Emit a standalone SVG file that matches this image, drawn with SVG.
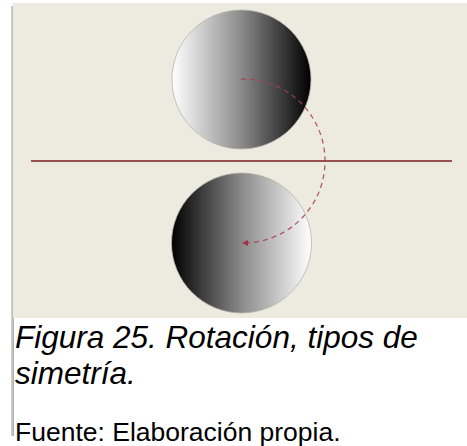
<svg xmlns="http://www.w3.org/2000/svg" width="467" height="446" viewBox="0 0 467 446">
  <style>
    .cap { font-family: "Liberation Sans", Arial, sans-serif; fill: #000; }
    .it { font-style: italic; font-size: 31.5px; }
    .src { font-size: 26.5px; }
    .ball { stroke: #b8b4aa; stroke-width: 0.8; }
    .arc { fill: none; stroke: #a8404f; stroke-width: 1.3; stroke-dasharray: 5 4; opacity: 0.85; }
  </style>
  <defs>
    <linearGradient id="lightDark" x1="0" y1="0" x2="1" y2="0">
      <stop offset="0" stop-color="#ffffff"/>
      <stop offset="0.5" stop-color="#8a8a8a"/>
      <stop offset="1" stop-color="#000000"/>
    </linearGradient>
    <linearGradient id="darkLight" x1="0" y1="0" x2="1" y2="0">
      <stop offset="0" stop-color="#000000"/>
      <stop offset="0.5" stop-color="#8a8a8a"/>
      <stop offset="1" stop-color="#ffffff"/>
    </linearGradient>
    <linearGradient id="shadow" x1="0" y1="0" x2="1" y2="0">
      <stop offset="0" stop-color="#d8d8d8"/>
      <stop offset="1" stop-color="#a8a8a8"/>
    </linearGradient>
    <marker id="arrow" viewBox="0 0 10 10" refX="5" refY="5" markerWidth="6" markerHeight="6" orient="auto" markerUnits="userSpaceOnUse">
      <path d="M0,0 L10,5 L0,10 Z" fill="#a8203a"/>
    </marker>
  </defs>

  <rect x="0" y="0" width="467" height="446" fill="#ffffff"/>
  <g id="panel">
    <rect x="11" y="6" width="3" height="430" fill="url(#shadow)"/>
    <rect x="13" y="3" width="454" height="315" fill="#edebe0"/>
  </g>

  <g id="axis">
    <line x1="31" y1="161" x2="452" y2="161" stroke="#7b1c1c" stroke-width="1.5"/>
  </g>

  <g id="circle-top">
    <circle class="ball" cx="241.5" cy="79.5" r="69.5" fill="url(#lightDark)"/>
  </g>

  <g id="circle-bottom">
    <circle class="ball" cx="241.5" cy="243" r="70" fill="url(#darkLight)"/>
  </g>

  <g id="connectors">
    <path class="arc" d="M241,79 A82,82 0 0 1 245,243" marker-end="url(#arrow)"/>
  </g>

  <g id="caption">
    <text class="cap it" x="15" y="348">Figura 25. Rotación, tipos de</text>
    <text class="cap it" x="15" y="384">simetría.</text>
    <text class="cap src" x="15" y="441">Fuente: Elaboración propia.</text>
  </g>
</svg>
